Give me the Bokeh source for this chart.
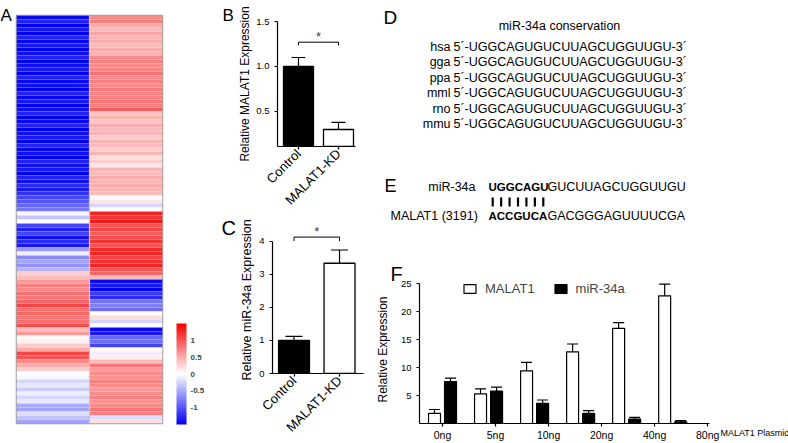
import math
from bokeh.plotting import figure
from bokeh.layouts import column
from bokeh.models import (Range1d, LinearColorMapper, ColorBar, FixedTicker, Whisker, TeeHead,
                          ColumnDataSource, Span, Legend, LegendItem, Label, PrintfTickFormatter)
from bokeh.core.properties import value
from bokeh.embed import file_html
from bokeh.resources import INLINE

FONT = "Liberation Sans"

# ---------------- data ----------------
# Panel A heatmap (two samples, rows top -> bottom, z-scores)
heat_left = [
    -1.45, -1.3, -1.5, -1.35, -1.5, -1.3, -1.45, -1.35, -1.5, -1.4,
    -1.3, -1.5, -1.4, -1.35, -1.5, -1.3, -1.45, -1.4, -1.5, -1.3,
    -1.45, -1.35, -1.5, -1.4, -1.3, -1.5, -1.45, -1.3, -1.5, -1.4,
    -1.35, -1.5, -1.3, -1.45, -1.4, -1.5, -1.3, -1.4, -1.35, -1.5,
    -1.3, -1.4, -1.25, -1.35, -1.2, -1.1, -1.0, -0.9, -0.8,
    -0.05, -0.35, 0.0, -1.1, -1.3, -1.1, -1.4, -1.25, -1.35, -0.6,
    -0.1, -0.7, -0.55, -0.65, -0.45, 0.3, 0.4, 0.6, 0.75, 0.7,
    0.85, 0.8, 0.9, 1.1, 0.85, 0.9, 0.8, 0.85, 1.05, 0.4,
    0.6, 0.05, 0.1, 0.3, 0.5, 1.1, 1.0, 0.7, 0.5, 0.3,
    0.0, -0.05, -0.25, -0.15, -0.3, -0.1, -0.25, -0.15, -0.5, -0.55,
    -0.2, -0.35, -0.55,
]
heat_right = [
    0.7, 0.75,
    0.5, 0.4, 0.55, 0.45, 0.5, 0.4, 0.5, 0.45,
    0.7, 0.75, 0.7, 0.72, 0.85,
    0.7, 0.75, 0.7, 0.78, 0.72, 0.75, 0.8, 0.75,
    0.95, 0.35,
    0.45, 0.35, 0.5, 0.4, 0.45, 0.3, 0.45, 0.4, 0.3, 0.45,
    0.2, 0.3, 0.15,
    0.45, 0.4, 0.5, 0.45, 0.5, 0.45,
    0.4, 0.02, 0.15, -0.25, 0.0,
    1.3, 1.2, 1.35, 1.0, 1.1, 0.95, 1.05, 1.2, 1.0, 1.25, 1.3, 1.1, 1.2, 1.3, 1.0, 0.9,
    0.4,
    -1.45, -1.35, -1.5, -1.15, -1.25, -0.8, -0.75, -0.85,
    0.0, 0.2, -0.25, 0.0,
    -1.45, -1.35, -0.9, -0.85, -1.1, 0.0, -0.1, 0.1, 0.4, 0.8, 0.6,
    0.7, 0.65, 0.75, 0.7, 0.6, 0.7, 0.75, 0.65, 0.7,
    0.8, 0.75, -0.2, 0.2,
]
cbar_ticks = [-1, -0.5, 0, 0.5, 1]
cbar_labels = ["-1", "-0.5", "0", "0.5", "1"]

# Panel B
b_groups = ["Control", "MALAT1-KD"]
b_vals = [1.0, 0.30]
b_err = [0.10, 0.08]
b_ticks = [0.5, 1.0, 1.5]
b_sig = 1.27

# Panel C
c_groups = ["Control", "MALAT1-KD"]
c_vals = [1.0, 3.33]
c_err = [0.12, 0.40]
c_ticks = [0, 1, 2, 3, 4]
c_sig = 4.12

# Panel D
species = ["hsa", "gga", "ppa", "mml", "rno", "mmu"]
mir34a_seq = "UGGCAGUGUCUUAGCUGGUUGU"

# Panel E
malat1_site = "ACCGUCAGACGGGAGUUUUCGA"
seed_len = 7

# Panel F
f_doses = ["0ng", "5ng", "10ng", "20ng", "40ng", "80ng"]
f_malat1 = [1.8, 5.3, 9.4, 12.8, 17.0, 22.8]
f_malat1_err = [0.7, 0.9, 1.5, 1.4, 1.0, 2.1]
f_mir = [7.5, 5.8, 3.6, 1.8, 0.8, 0.3]
f_mir_err = [0.6, 0.7, 0.6, 0.5, 0.3, 0.2]
f_ticks = [5, 10, 15, 20, 25]

# ---------------- layout helpers ----------------
CW, CH = 788, 443
OX, OY = 0, 0


def canvas(l, t, r, b, x_range, y_range, **kw):
    p = figure(width=CW, height=CH, x_range=x_range, y_range=y_range, title=None,
               output_backend="svg", toolbar_location=None, **kw)
    p.frame_align = False
    p.min_border_left = l - OX
    p.min_border_right = OX + CW - r
    p.min_border_top = t - OY
    p.min_border_bottom = OY + CH - b
    p.background_fill_color = None
    p.border_fill_color = None
    p.outline_line_color = None
    p.xgrid.visible = False
    p.ygrid.visible = False
    return p


def style_axes(p, tick_size, label_size):
    for ax in p.axis:
        ax.axis_line_color = "black"
        ax.axis_line_width = 1.2
        ax.major_tick_line_color = "black"
        ax.major_tick_line_width = 1.2
        ax.major_tick_out = 3
        ax.major_tick_in = 0
        ax.minor_tick_line_color = None
        ax.major_label_text_font = FONT
        ax.major_label_text_font_size = tick_size
        ax.major_label_text_color = "black"
        ax.axis_label_text_font = FONT
        ax.axis_label_text_font_size = label_size
        ax.axis_label_text_font_style = "normal"
        ax.axis_label_text_color = "black"


# palette blue -> white -> red
def _mix(c1, c2, t):
    return "#%02x%02x%02x" % tuple(int(round(a + (b - a) * t)) for a, b in zip(c1, c2))


palette = [_mix((0, 0, 245), (255, 255, 255), i / 127) for i in range(128)] + \
          [_mix((255, 255, 255), (245, 0, 0), i / 127) for i in range(128)]
mapper = LinearColorMapper(palette=palette, low=-1.5, high=1.5)

# ---------------- Panel A ----------------
nrows = len(heat_left)
pA = canvas(16, 15, 162, 423, Range1d(0, 2), Range1d(nrows, 0), x_axis_type=None, y_axis_type=None)
xs, ys, zs = [], [], []
for col, vals in enumerate([heat_left, heat_right]):
    for r, v in enumerate(vals):
        xs.append(col + 0.5)
        ys.append(r + 0.5)
        zs.append(v)
pA.rect(x="x", y="y", width=1, height=1, source=ColumnDataSource(dict(x=xs, y=ys, z=zs)),
        fill_color={"field": "z", "transform": mapper}, line_color="white", line_alpha=0.12, line_width=0.5)
pA.add_layout(Span(location=1, dimension="height", line_color="#c8c8c8", line_width=1.2))
pA.outline_line_color = "#a0a0a0"
pA.outline_line_width = 1.5
cb = ColorBar(color_mapper=mapper, location=(160, -1), width=10, height=101, padding=0, margin=0,
              ticker=FixedTicker(ticks=cbar_ticks),
              major_label_overrides=dict(zip(cbar_ticks, cbar_labels)),
              major_label_text_font=FONT, major_label_text_font_size="8px",
              major_label_text_font_style="bold", major_tick_line_color=None,
              bar_line_color=None, border_line_color=None, background_fill_color=None,
              label_standoff=4)
pA.add_layout(cb)

# ---------------- Panel B ----------------
pB = canvas(277, 21, 355, 146, Range1d(0.475, 2.425), Range1d(0.111, 1.5))
bx = [1, 2]
pB.vbar(x=bx, top=b_vals, bottom=0, width=0.75, fill_color=["black", "white"],
        line_color="black", line_width=1.3)
srcB = ColumnDataSource(dict(x=bx, lo=b_vals, hi=[v + e for v, e in zip(b_vals, b_err)]))
pB.add_layout(Whisker(source=srcB, base="x", lower="lo", upper="hi", lower_head=None,
                      upper_head=TeeHead(size=14, line_width=1.2), line_width=1.2))
pB.line([1, 1, 2, 2], [b_sig - 0.035, b_sig, b_sig, b_sig - 0.035], line_color="black", line_width=1)
pB.add_layout(Label(x=1.5, y=b_sig, text="*", text_align="center", text_baseline="bottom",
                    text_font=FONT, text_font_size="13px", y_offset=-2))
pB.xaxis.ticker = FixedTicker(ticks=bx)
pB.xaxis.major_label_overrides = dict(zip(bx, b_groups))
pB.xaxis.major_label_orientation = math.pi / 4
pB.yaxis.ticker = FixedTicker(ticks=b_ticks)
pB.yaxis.formatter = PrintfTickFormatter(format="%.1f")
pB.yaxis.axis_label = "Relative MALAT1 Expression"
style_axes(pB, "9.5px", "12px")
pB.xaxis.major_label_text_font_size = "13px"
pB.xaxis.major_label_standoff = 2
pB.yaxis.axis_label_standoff = 1

# ---------------- Panel C ----------------
pC = canvas(272, 226, 363, 376, Range1d(0.527, 2.527), Range1d(0, 4.44))
pC.vbar(x=bx, top=c_vals, bottom=0, width=0.68, fill_color=["black", "white"],
        line_color="black", line_width=1.3)
srcC = ColumnDataSource(dict(x=bx, lo=c_vals, hi=[v + e for v, e in zip(c_vals, c_err)]))
pC.add_layout(Whisker(source=srcC, base="x", lower="lo", upper="hi", lower_head=None,
                      upper_head=TeeHead(size=17, line_width=1.2), line_width=1.2))
pC.line([1, 1, 2, 2], [c_sig - 0.12, c_sig, c_sig, c_sig - 0.12], line_color="black", line_width=1)
pC.add_layout(Label(x=1.5, y=c_sig, text="*", text_align="center", text_baseline="bottom",
                    text_font=FONT, text_font_size="13px", y_offset=-2))
pC.xaxis.ticker = FixedTicker(ticks=bx)
pC.xaxis.major_label_overrides = dict(zip(bx, c_groups))
pC.xaxis.major_label_orientation = math.pi / 4
pC.yaxis.ticker = FixedTicker(ticks=c_ticks)
pC.yaxis.bounds = (0, 4)
pC.yaxis.axis_label = "Relative miR-34a Expression"
style_axes(pC, "9.5px", "12.5px")
pC.xaxis.major_label_text_font_size = "13px"
pC.xaxis.major_label_standoff = 2
pC.yaxis.axis_label_standoff = 2

# ---------------- Panel F ----------------
step_lbl = 1.152
f_top = 25 + 8 / 5.6   # a little head-room above the last tick for the legend
pF = canvas(419, 275, 709, 423, Range1d(-0.5, 5.8), Range1d(0, f_top))
gx = list(range(len(f_doses)))
dodge = 0.174
rM = pF.vbar(x=[g - dodge for g in gx], top=f_malat1, bottom=0, width=0.26,
             fill_color="white", line_color="black", line_width=1.2)
rm = pF.vbar(x=[g + dodge for g in gx], top=f_mir, bottom=0, width=0.26,
             fill_color="black", line_color="black", line_width=1.2)
srcF = ColumnDataSource(dict(
    x=[g - dodge for g in gx] + [g + dodge for g in gx],
    lo=f_malat1 + f_mir,
    hi=[v + e for v, e in zip(f_malat1, f_malat1_err)] + [v + e for v, e in zip(f_mir, f_mir_err)]))
pF.add_layout(Whisker(source=srcF, base="x", lower="lo", upper="hi", lower_head=None,
                      upper_head=TeeHead(size=11, line_width=1.2), line_width=1.2))
tick_pos = [round(g * step_lbl, 3) for g in gx]
pF.xaxis.ticker = FixedTicker(ticks=tick_pos)
pF.xaxis.major_label_overrides = dict(zip(tick_pos, f_doses))
pF.yaxis.ticker = FixedTicker(ticks=f_ticks)
pF.yaxis.bounds = (0, 25)
pF.yaxis.axis_label = "Relative Expression"
style_axes(pF, "9.5px", "12px")
pF.xaxis.major_label_text_font_size = "10.5px"
pF.xaxis.major_label_standoff = 2
pF.yaxis.axis_label_standoff = 8
leg = Legend(items=[LegendItem(label="MALAT1", renderers=[rM]), LegendItem(label="miR-34a", renderers=[rm])],
             orientation="horizontal", location=(43, 127), glyph_width=15, glyph_height=11,
             label_height=12, label_standoff=8, spacing=18, padding=0, margin=0,
             border_line_color=None, background_fill_color=None,
             label_text_font=FONT, label_text_font_size="13px")
pF.add_layout(leg)

# ---------------- text canvas (panel letters, D, E) ----------------
pT = canvas(OX, OY, OX + CW, OY + CH, Range1d(OX, OX + CW), Range1d(OY + CH, OY),
            x_axis_type=None, y_axis_type=None)


def txt(x, y, s, size, align="left", baseline="middle", style="normal"):
    pT.text(x=[x], y=[y], text=[s], text_font=value(FONT), text_font_size=size,
            text_align=align, text_baseline=baseline, text_font_style=style, text_color="black")


letters = [("A", 0, 15, "17px"), ("B", 222, 15, "17px"), ("C", 221, 227, "20px"),
           ("D", 383, 17, "19px"), ("E", 384, 185, "18px"), ("F", 390, 273, "20px")]
for letter, lx, ly, fs in letters:
    txt(lx, ly, letter, fs, baseline="alphabetic")

txt(559, 25, "miR-34a conservation", "12.5px", align="center")
for i, sp in enumerate(species):
    y = 46 + i * 15.5
    txt(450, y, sp, "12.5px", align="right")
    txt(453, y, "5\u00b4-" + mir34a_seq + "-3\u00b4", "12.5px")

txt(475, 186, "miR-34a", "12.5px", align="right")
txt(488, 186, mir34a_seq[:seed_len], "11.5px", style="bold")
txt(547, 186, mir34a_seq[seed_len:], "12.5px")
txt(390, 215, "MALAT1 (3191)", "12.5px")
txt(488, 215, malat1_site[:seed_len], "11.5px", style="bold")
txt(547, 215, malat1_site[seed_len:], "12.5px")
bar_x = [488 + (i + 0.5) * 59 / seed_len for i in range(seed_len)]
pT.segment(x0=bar_x, y0=[197] * seed_len, x1=bar_x, y1=[206] * seed_len, line_color="black", line_width=2.2)

txt(720, 432, "MALAT1 Plasmid", "9px")

figs = [pA, pB, pC, pF, pT]
for f in figs[1:]:
    f.margin = (-CH, 0, 0, 0)
root = column(*figs)

open("out.html", "w").write(file_html(root, INLINE))
